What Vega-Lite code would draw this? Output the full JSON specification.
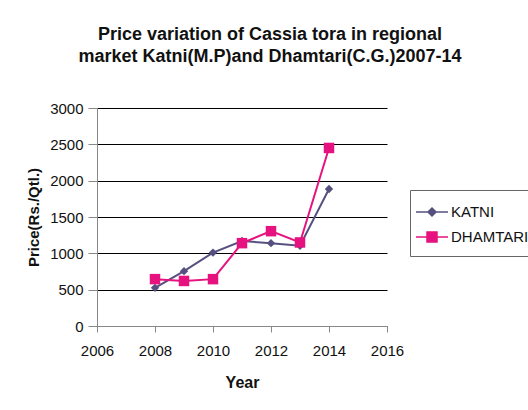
{
  "$schema": "https://vega.github.io/schema/vega-lite/v6.json",
  "autosize": "none",
  "width": 290,
  "height": 218,
  "padding": {"left": 97, "top": 108, "right": 141, "bottom": 84},
  "background": "white",
  "config": {
    "font": "Liberation Sans",
    "view": {"stroke": null},
    "axis": {"labelFont": "Liberation Sans", "titleFont": "Liberation Sans"}
  },
  "title": {
    "text": ["Price variation of Cassia tora in regional", "market Katni(M.P)and Dhamtari(C.G.)2007-14"],
    "fontSize": 18,
    "fontWeight": "bold",
    "color": "#111111",
    "anchor": "middle",
    "dx": 28,
    "baseline": "alphabetic",
    "lineHeight": 22,
    "offset": 21
  },
  "data": {
    "values": [
      {"Year": 2008, "Market": "KATNI", "Price": 525},
      {"Year": 2009, "Market": "KATNI", "Price": 755},
      {"Year": 2010, "Market": "KATNI", "Price": 1010},
      {"Year": 2011, "Market": "KATNI", "Price": 1170},
      {"Year": 2012, "Market": "KATNI", "Price": 1140},
      {"Year": 2013, "Market": "KATNI", "Price": 1105},
      {"Year": 2014, "Market": "KATNI", "Price": 1885},
      {"Year": 2008, "Market": "DHAMTARI", "Price": 645},
      {"Year": 2009, "Market": "DHAMTARI", "Price": 620},
      {"Year": 2010, "Market": "DHAMTARI", "Price": 645},
      {"Year": 2011, "Market": "DHAMTARI", "Price": 1140},
      {"Year": 2012, "Market": "DHAMTARI", "Price": 1305},
      {"Year": 2013, "Market": "DHAMTARI", "Price": 1150},
      {"Year": 2014, "Market": "DHAMTARI", "Price": 2450}
    ]
  },
  "encoding": {
    "x": {
      "field": "Year",
      "type": "quantitative",
      "scale": {"domain": [2006, 2016], "nice": false, "zero": false},
      "axis": {
        "values": [2006, 2008, 2010, 2012, 2014, 2016],
        "format": "d",
        "title": "Year",
        "titleFontSize": 16,
        "titleFontWeight": "bold",
        "titleColor": "#111111",
        "titlePadding": 16,
        "labelFontSize": 15,
        "labelColor": "#111111",
        "labelPadding": 11,
        "labelFlush": false,
        "labelOverlap": false,
        "tickSize": 6,
        "tickColor": "#888888",
        "domainColor": "#888888",
        "grid": false
      }
    },
    "y": {
      "field": "Price",
      "type": "quantitative",
      "scale": {"domain": [0, 3000], "nice": false},
      "axis": {
        "values": [0, 500, 1000, 1500, 2000, 2500, 3000],
        "format": "d",
        "title": "Price(Rs./Qtl.)",
        "titleFontSize": 15,
        "titleFontWeight": "bold",
        "titleColor": "#111111",
        "titlePadding": 8,
        "labelFontSize": 15,
        "labelColor": "#111111",
        "labelPadding": 5,
        "tickSize": 9,
        "tickColor": "#888888",
        "domainColor": "#888888",
        "grid": true,
        "gridColor": "#000000",
        "gridWidth": 1,
        "gridOpacity": 1
      }
    },
    "color": {
      "field": "Market",
      "type": "nominal",
      "scale": {"domain": ["KATNI", "DHAMTARI"], "range": ["#55507f", "#e5127f"]},
      "legend": {
        "title": null,
        "orient": "none",
        "legendX": 313,
        "legendY": 82,
        "padding": 11,
        "strokeColor": "#666666",
        "fillColor": "white",
        "symbolSize": 400,
        "symbolType": "M-1.6,0H1.6",
        "labelFontSize": 15,
        "labelColor": "#111111",
        "labelOffset": 8,
        "rowPadding": 6,
        "encode": {
          "symbols": {
            "update": {
              "shape": {"signal": "datum.value === 'KATNI' ? 'M-1.6,0H1.6M0,-0.4L0.4,0L0,0.4L-0.4,0Z' : 'M-1.6,0H1.6M-0.5,-0.5H0.5V0.5H-0.5Z'"},
              "stroke": {"signal": "datum.value === 'KATNI' ? '#55507f' : '#e5127f'"},
              "fill": {"signal": "datum.value === 'KATNI' ? '#55507f' : '#e5127f'"},
              "strokeWidth": {"value": 1.5},
              "opacity": {"value": 1}
            }
          }
        }
      }
    }
  },
  "layer": [
    {
      "mark": {"type": "line", "strokeWidth": 2}
    },
    {
      "transform": [{"filter": "datum.Market === 'KATNI'"}],
      "mark": {"type": "point", "filled": true, "opacity": 1, "shape": "diamond", "size": 70}
    },
    {
      "transform": [{"filter": "datum.Market === 'DHAMTARI'"}],
      "mark": {"type": "point", "filled": true, "opacity": 1, "shape": "square", "size": 110}
    }
  ]
}
